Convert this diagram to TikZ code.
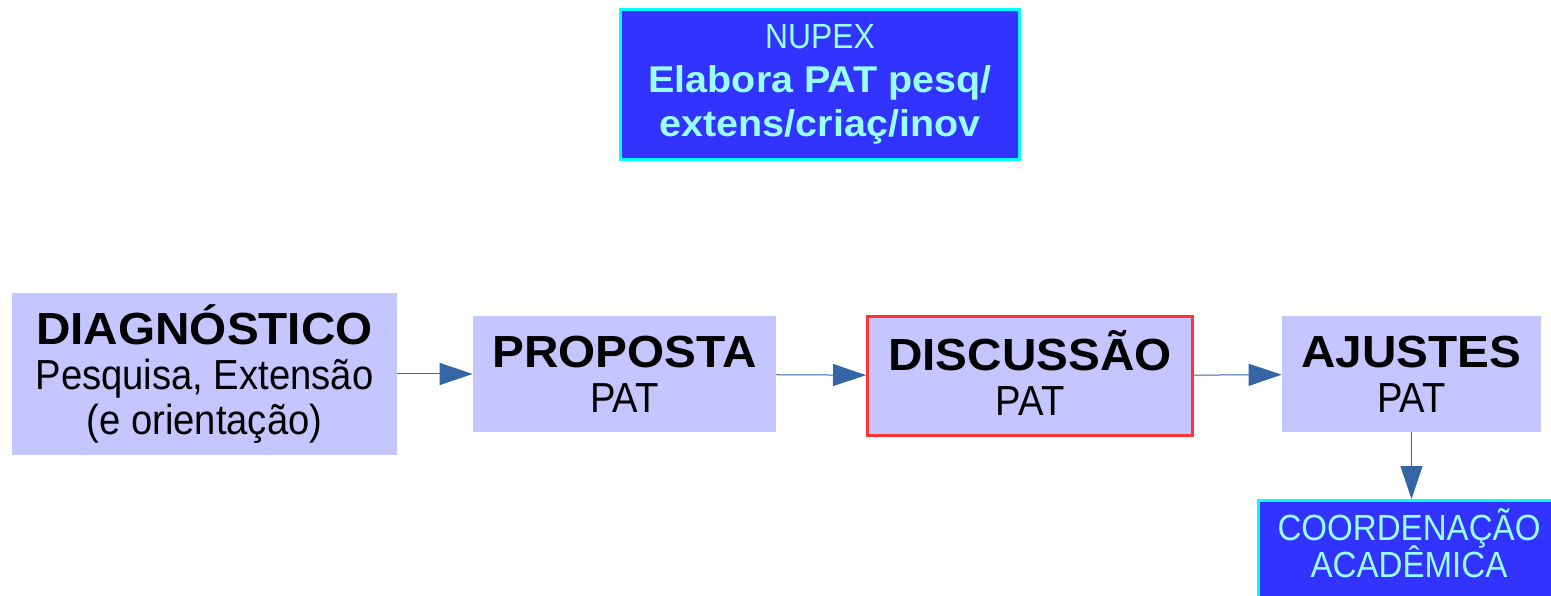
\documentclass[tikz,border=0pt]{standalone}
\usepackage{fontspec}
\usepackage{xcolor}
\usetikzlibrary{positioning,arrows.meta}
\setmainfont{Liberation Sans}
\newfontfamily\headfont[FakeStretch=1.06]{Liberation Sans}
\newfontfamily\narrowfont[FakeStretch=0.91]{Liberation Sans}
\definecolor{boxfill}{HTML}{C5C5FF}
\definecolor{deepblue}{HTML}{3333FF}
\definecolor{textcyan}{HTML}{99FFFF}
\definecolor{edgecyan}{HTML}{00FFFF}
\definecolor{edgered}{HTML}{FF3333}
\definecolor{arrowblue}{HTML}{3465A4}
\newcommand{\stage}[1]{{\headfont\bfseries\fontsize{25.6}{25.6}\selectfont #1}}
\newcommand{\tightlines}{\lineskiplimit=-50pt\relax}

\tikzset{
    phase/.style={fill=boxfill, align=center, inner sep=0pt,
        font=\narrowfont\fontsize{23.9}{25.6}\selectfont\tightlines},
    office/.style={fill=deepblue, draw=edgecyan, line width=1.7pt, align=center,
        inner sep=0pt, text=textcyan},
    flow/.style={draw=arrowblue, line width=0.57pt, -{Triangle[length=0.66cm, width=0.44cm]}}
}

\begin{document}
\begin{tikzpicture}
    \useasboundingbox (0,0) rectangle (31.02,11.92);

    % Top office
    \node[office, minimum width=7.98cm, minimum height=3cm,
        font=\narrowfont\fontsize{19.9}{25}\selectfont\tightlines] (nupex) at (16.4,10.23)
        {NUPEX\\ {\headfont\bfseries\fontsize{21.2}{25}\selectfont Elabora PAT pesq/}\\
         {\headfont\bfseries\fontsize{21.2}{25}\selectfont extens/criaç/inov}};

    % Stages
    \node[phase, minimum width=7.7cm, minimum height=3.24cm] (diag) at (4.09,4.44)
        {\stage{DIAGNÓSTICO}\\ Pesquisa, Extensão\\ (e orientação)};
    \node[phase, minimum width=6.06cm, minimum height=2.32cm] (prop) at (12.49,4.44)
        {\stage{PROPOSTA}\\ PAT};
    \node[phase, draw=edgered, line width=1.7pt, minimum width=6.5cm, minimum height=2.38cm,
        text depth=3.4pt] (disc) at (20.6,4.4)
        {\stage{DISCUSSÃO}\\ PAT};
    \node[phase, minimum width=5.18cm, minimum height=2.32cm] (ajust) at (28.23,4.44)
        {\stage{AJUSTES}\\ PAT};

    % Bottom office
    \node[office, minimum width=6.02cm, minimum height=1.96cm, text depth=7pt,
        font=\narrowfont\fontsize{20.7}{21}\selectfont\tightlines] (coord) at (28.18,0.93)
        {COORDENAÇÃO\\ ACADÊMICA};

    % Arrows
    \draw[flow] (diag) -- (prop);
    \draw[flow] (prop) -- (disc);
    \draw[flow] (disc) -- (ajust);
    \draw[flow] (ajust.south) -- (ajust.south |- coord.north);

\end{tikzpicture}
\end{document}
